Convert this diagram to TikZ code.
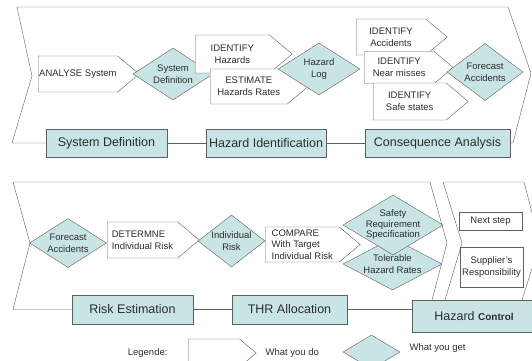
\documentclass[tikz,border=0pt]{standalone}
\usepackage{fontspec}
\setmainfont{Liberation Sans}
\usetikzlibrary{shapes.geometric,shapes.symbols}

\definecolor{getcol}{RGB}{200,228,228}
\definecolor{linecol}{RGB}{95,95,95}
\definecolor{txtcol}{RGB}{45,45,45}

\newcommand{\smallfnt}{\fontsize{9.5}{11.7}\selectfont}
\newcommand{\phasefnt}{\fontsize{12.5}{14}\selectfont}

\tikzset{
  doit/.style={signal, signal to=east, signal pointer angle=80, draw=linecol, fill=white,
    inner sep=1pt, font=\smallfnt, text=txtcol, align=center},
  getit/.style={diamond, draw=linecol, fill=getcol, inner sep=0pt},
  gettext/.style={font=\smallfnt, text=txtcol, align=center},
  phase/.style={rectangle, draw=linecol, fill=getcol, inner sep=0pt, font=\phasefnt, text=txtcol},
  plainbox/.style={rectangle, draw=linecol, fill=white, inner sep=0pt, font=\smallfnt, text=txtcol, align=center},
  frame/.style={draw=linecol, line join=miter}
}

\begin{document}
\begin{tikzpicture}[x=1pt,y=-1pt]
\useasboundingbox (0,0) rectangle (532,360);

% first row: system definition .. consequence analysis
\node[doit, anchor=west, minimum width=99pt, minimum height=36pt] (analyse) at (38,74) {ANALYSE System};
\node[getit, minimum width=80pt, minimum height=52pt, label={[gettext]center:System\\Definition}] (sysdef) at (173,74) {};

\node[doit, anchor=west, minimum width=97pt, minimum height=38pt] (idhaz) at (195,54) {IDENTIFY\\Hazards};
\node[doit, anchor=west, minimum width=98pt, minimum height=35pt] (esthaz) at (210,86.5) {ESTIMATE\\Hazards Rates};
\node[getit, minimum width=82pt, minimum height=52pt, label={[gettext]center:Hazard\\Log}] (hazlog) at (319,69) {};

\node[doit, anchor=west, minimum width=91pt, minimum height=36pt] (idacc) at (356,37) {IDENTIFY\\Accidents};
\node[doit, anchor=west, minimum width=89pt, minimum height=32pt] (idnear) at (364,67.5) {IDENTIFY\\Near misses};
\node[doit, anchor=west, minimum width=95pt, minimum height=37pt] (idsafe) at (373,101.5) {IDENTIFY\\Safe states};
\node[getit, minimum width=76pt, minimum height=57pt, label={[gettext]center:Forecast\\Accidents}] (fcacc) at (485,72) {};

\node[phase, minimum width=121pt, minimum height=28pt] (sysbox) at (106.5,143) {System Definition};
\node[phase, minimum width=120pt, minimum height=28pt] (hazbox) at (266,143) {Hazard Identification};
\node[phase, minimum width=145pt, minimum height=28pt] (consbox) at (437.5,143) {Consequence Analysis};

\draw[frame] (sysbox.west) -- (12,143) -- (32,76) -- (17,7) -- (508,7) -- (531,73) -- (513,143) -- (consbox.east);
\draw[frame] (sysbox) -- (hazbox);
\draw[frame] (hazbox) -- (consbox);

% second row: risk estimation .. hazard control
\node[getit, minimum width=77pt, minimum height=49pt, label={[gettext]center:Forecast\\Accidents}] (fcacc2) at (68,243) {};
\node[doit, anchor=west, minimum width=92pt, minimum height=36pt, align=left] (determ) at (107,240) {DETERMNE\\Individual Risk};
\node[getit, minimum width=67pt, minimum height=52pt, label={[gettext]center:Individual\\Risk}] (indrisk) at (231.5,241) {};
\node[doit, anchor=west, minimum width=95pt, minimum height=35pt, align=left] (compare) at (265,244.5) {COMPARE\\With Target\\Individual Risk};
\node[getit, minimum width=99pt, minimum height=52pt, label={[gettext]center:Tolerable\\Hazard Rates}] (thr) at (392.5,264) {};
\node[getit, minimum width=100pt, minimum height=60pt, label={[gettext, font=\fontsize{9.5}{10.5}\selectfont]center:Safety\\Requirement\\Specification}] (srs) at (393,225) {};

\node[plainbox, minimum width=63pt, minimum height=18pt] (next) at (490.5,221) {Next step};
\node[plainbox, minimum width=63pt, minimum height=40pt] (supp) at (491.5,267) {Supplier's\\Responsibility};

\node[phase, minimum width=121pt, minimum height=29pt] (riskbox) at (132.5,309.5) {Risk Estimation};
\node[phase, minimum width=115pt, minimum height=29pt] (thrbox) at (289.5,309.5) {THR Allocation};
\node[phase, minimum width=124pt, minimum height=32pt] (hcbox) at (474,316) {Hazard {\bfseries\fontsize{10}{12}\selectfont Control}};

\draw[frame] (riskbox.west) -- (13,309.5) -- (30,243) -- (13,182) -- (430,182) -- (447,243) -- (432,300);
\draw[frame] (445,300) -- (462,243) -- (443,182) -- (524,182) -- (540,243) -- (522,300);
\draw[frame] (riskbox) -- (thrbox);
\draw[frame] (thrbox.east) -- (thrbox.east -| hcbox.west);

% legend
\node[gettext, anchor=east] (legend) at (171,353) {Legende:};
\node[doit, anchor=west, minimum width=68pt, minimum height=28pt] (dokey) at (188,353) {};
\node[gettext, anchor=west] (dotext) at (262,353) {What you do};
\node[getit, minimum width=57pt, minimum height=34pt] (getkey) at (371.5,352) {};
\node[gettext, anchor=west] (gettxt) at (406,348) {What you get};
\end{tikzpicture}
\end{document}
